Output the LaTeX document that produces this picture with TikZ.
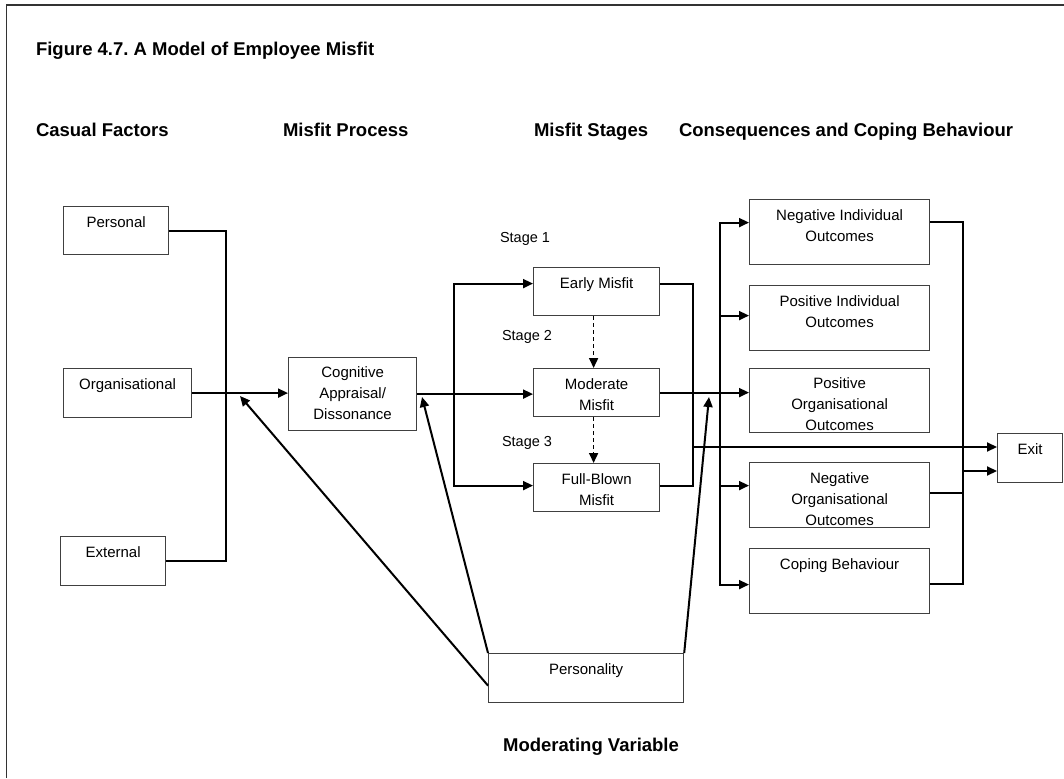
\documentclass[tikz,border=0pt]{standalone}
\usepackage{fontspec}
\setmainfont{Liberation Sans}
\usetikzlibrary{arrows.meta}
\frenchspacing
\begin{document}
\begin{tikzpicture}[x=1pt, y=-1pt, line width=2pt,
    >={Triangle[length=10pt,width=9pt]},
    box/.style={draw=black!75, line width=1.2pt, rectangle, inner sep=0pt, anchor=north west},
    txt/.style={anchor=north, align=center, inner sep=10pt, font=\fontsize{15}{21}\selectfont},
    head/.style={anchor=base west, inner sep=0pt, font=\fontsize{18.5}{22}\selectfont\bfseries},
    stage/.style={inner sep=0pt, font=\fontsize{14.5}{17}\selectfont}]
  \useasboundingbox (0,0) rectangle (1064,778);
  % frame
  \draw[line width=1.2pt, black!80] (6.5,778) -- (6.5,5) -- (1064,5);

  % headings
  \node[head] (title) at (35,55.5) {Figure 4.7. A Model of Employee Misfit};
  \node[head] (hcause) at (35,136.5) {Casual Factors};
  \node[head] (hproc) at (282,136.5) {Misfit Process};
  \node[head] (hstage) at (533,136.5) {Misfit Stages};
  \node[head] (hcons) at (678,136.5) {Consequences and Coping Behaviour};
  \node[head, anchor=base] (hmod) at (591,751.5) {Moderating Variable};

  % causal factors
  \node[box, minimum width=105, minimum height=48, label={[txt]north:Personal}] (personal) at (63,206) {};
  \node[box, minimum width=128, minimum height=49, label={[txt]north:Organisational}] (org) at (63,368) {};
  \node[box, minimum width=105, minimum height=49, label={[txt]north:External}] (ext) at (60,536) {};

  % misfit process
  \node[box, minimum width=128, minimum height=73, label={[txt, inner ysep=9pt]north:{Cognitive\\Appraisal/\\Dissonance}}] (cog) at (288,357) {};

  % misfit stages
  \node[box, minimum width=126, minimum height=48, label={[txt]north:Early Misfit}] (early) at (533,267) {};
  \node[box, minimum width=126, minimum height=48, label={[txt]north:{Moderate\\Misfit}}] (moder) at (533,368) {};
  \node[box, minimum width=126, minimum height=48, label={[txt]north:{Full-Blown\\Misfit}}] (full) at (533,463) {};
  \node[stage] (st1) at (525,239) {Stage 1};
  \node[stage] (st2) at (527,337) {Stage 2};
  \node[stage] (st3) at (527,443) {Stage 3};

  % consequences
  \node[box, minimum width=180, minimum height=65, label={[txt]north:{Negative Individual\\Outcomes}}] (negind) at (749,199) {};
  \node[box, minimum width=180, minimum height=65, label={[txt]north:{Positive Individual\\Outcomes}}] (posind) at (749,285) {};
  \node[box, minimum width=180, minimum height=64, label={[txt, inner ysep=9pt]north:{Positive\\Organisational\\Outcomes}}] (posorg) at (749,368) {};
  \node[box, minimum width=180, minimum height=65, label={[txt]north:{Negative\\Organisational\\Outcomes}}] (negorg) at (749,462) {};
  \node[box, minimum width=180, minimum height=65, label={[txt]north:Coping Behaviour}] (coping) at (749,548) {};
  \node[box, minimum width=65, minimum height=49, label={[txt]north:Exit}] (exit) at (997,433) {};

  % moderator
  \node[box, minimum width=195, minimum height=49, label={[txt]north:Personality}] (persty) at (488,653) {};

  % junctions
  \coordinate (inbus) at (226,392);
  \coordinate (split) at (454,393);
  \coordinate (stagebus) at (693,447);
  \coordinate (outbus) at (720,392);
  \coordinate (exitbus) at (963,471);
  \coordinate (modA) at (240,396);
  \coordinate (modB) at (422,397);
  \coordinate (modC) at (709,397);

  % causes into appraisal
  \draw (personal.east) -| (inbus) |- (ext.east);
  \draw[->] (org.east) -- (org.east -| cog.west);

  % appraisal into stages
  \draw[->] (cog.east) -- (cog.east -| moder.west);
  \draw[->] (split) |- ([yshift=8]early.west);
  \draw[->] (split) |- ([yshift=2]full.west);
  \draw[->, dash pattern=on 4pt off 3pt, line width=1.6pt] ([xshift=-3]early.south) -- ([xshift=-3]moder.north);
  \draw[->, dash pattern=on 4pt off 3pt, line width=1.6pt] ([xshift=-3]moder.south) -- ([xshift=-3]full.north);

  % stages into consequences
  \draw ([yshift=8]early.east) -| (stagebus) |- ([yshift=2]full.east);
  \draw[->] (stagebus) -- (stagebus -| exit.west);
  \draw[->] (moder.east) -- (moder.east -| posorg.west);
  \draw[->] (outbus) |- ([yshift=9.5]negind.west);
  \draw[->] (outbus) |- ([yshift=2.5]posind.west);
  \draw[->] (outbus) |- ([yshift=9.5]negorg.west);
  \draw[->] (outbus) |- ([yshift=-3.5]coping.west);

  % consequences into exit
  \draw ([yshift=10]negind.east) -| (exitbus) |- ([yshift=-2.5]coping.east);
  \draw ([yshift=2.5]negorg.east) -- ([yshift=2.5]negorg.east -| exitbus);
  \draw[->] (exitbus) -- (exitbus -| exit.west);

  % moderating arrows
  \draw[->] ([yshift=-7.5]persty.west) -- (modA);
  \draw[->] (persty.north west) -- (modB);
  \draw[->] (persty.north east) -- (modC);
\end{tikzpicture}
\end{document}
